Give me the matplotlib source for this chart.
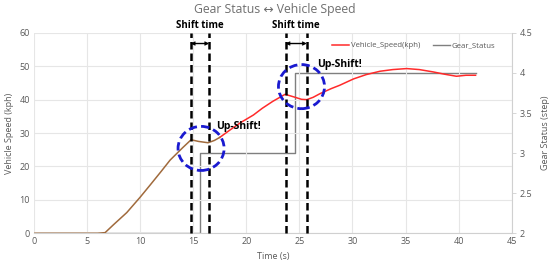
import matplotlib
matplotlib.use("Agg")
import matplotlib.pyplot as plt
from matplotlib.patches import Ellipse

plt.rcParams['font.family'] = ['Open Sans', 'DejaVu Sans']

# ---- data ----
time_s = [0, 2, 4, 6, 6.7, 7.5, 8.74, 10, 10.93, 12, 12.82, 14, 14.8, 15.5, 16.4, 17.0, 17.5,
          18.5, 19.5, 20.67, 21.5, 22.5, 23.66, 24.5, 25.2, 25.7, 26.3, 26.95, 28, 28.8, 30.1,
          31.3, 32.6, 33.8, 35.1, 36.3, 37.6, 38.7, 39.8, 40.7, 41.6]
speed_kph = [0, 0, 0, 0, 0.2, 2.6, 6.2, 10.8, 14.4, 18.6, 21.9, 25.6, 28, 27.5, 27.1, 27.8, 28.7,
             31, 33.2, 35.4, 37.4, 39.5, 41.6, 40.8, 40.1, 40.0, 40.7, 41.8, 43.3, 44.3, 46.2,
             47.5, 48.5, 49.0, 49.3, 49.0, 48.3, 47.6, 47.0, 47.3, 47.3]
split_idx = 16  # speed segment drawn brown up to t=17.5

gear_time = [0, 15.65, 24.55, 41.6]
gear_step = [2, 3, 4, 4]

shift_lines = [14.77, 16.5, 23.7, 25.7]
circle_centers = [(15.74, 25.4), (25.2, 43.9)]
upshift_pos = [(17.2, 31.9), (26.7, 50.6)]

x_ticks = [0, 5, 10, 15, 20, 25, 30, 35, 40, 45]
y_ticks = [0, 10, 20, 30, 40, 50, 60]
y2_ticks = [2, 2.5, 3, 3.5, 4, 4.5]
y2_labels = ['2', '2.5', '3', '3.5', '4', '4.5']

# ---- figure ----
fig = plt.figure(figsize=(5.5, 2.69), dpi=100)
ax = fig.add_axes([0.0618, 0.1327, 0.8685, 0.7453])
ax2 = ax.twinx()

gray = '#7f7f7f'
tick_col = '#595959'

ax.set_xlim(0, 45)
ax.set_ylim(0, 60)
ax2.set_ylim(2, 4.5)

ax.set_xticks(x_ticks)
ax.set_yticks(y_ticks)
ax2.set_yticks(y2_ticks)
ax2.set_yticklabels(y2_labels)
ax.grid(True, color='#e6e6e6', lw=0.8)
ax.set_axisbelow(True)

for a in (ax, ax2):
    for s in a.spines.values():
        s.set_visible(False)
ax2.spines['right'].set_visible(True)
ax2.spines['right'].set_color('#d0d0d0')
ax.spines['bottom'].set_visible(True)
ax.spines['bottom'].set_color('#d0d0d0')

ax.tick_params(axis='both', labelsize=6.5, colors=tick_col, length=0, pad=3)
ax2.tick_params(axis='y', labelsize=6.5, colors=tick_col, length=3, width=0.6, pad=3)
ax2.tick_params(axis='y', color='#d0d0d0')

ax.set_xlabel('Time (s)', fontsize=6.5, color=tick_col, labelpad=4)
ax.set_ylabel('Vehicle Speed (kph)', fontsize=6.5, color=tick_col, labelpad=4)
ax2.set_ylabel('Gear Status (step)', fontsize=6.5, color=tick_col, labelpad=6)

# speed
l1, = ax.plot(time_s[split_idx:], speed_kph[split_idx:], color='#ff2a2a', lw=1.1, zorder=4,
              label='Vehicle_Speed(kph)')
ax.plot(time_s[:split_idx + 1], speed_kph[:split_idx + 1], color='#a06a3c', lw=1.1, zorder=4)

# gear
l2, = ax2.plot(gear_time, gear_step, color=gray, lw=1.0, drawstyle='steps-post',
               label='Gear_Status', zorder=3)

# shift lines
for x in shift_lines:
    ax.plot([x, x], [0, 60], color='black', lw=1.8, ls=(0, (3, 1.6)), zorder=6,
            clip_on=False)

for i in range(0, len(shift_lines), 2):
    a, b = shift_lines[i], shift_lines[i + 1]
    ax.annotate('', xy=(a, 56.8), xytext=(b, 56.8),
                arrowprops=dict(arrowstyle='<->', color='black', lw=1.0,
                                mutation_scale=5, shrinkA=0, shrinkB=0), zorder=7)
    ax.text((a + b) / 2, 62.3, 'Shift time', ha='center', va='center', fontsize=7,
            fontweight='bold', color='black')

for (cx, cy) in circle_centers:
    e = Ellipse((cx, cy), width=4.34, height=13.2, fill=False, ec='#1a1ad0', lw=2.0,
                ls=(0, (3, 1.5)), zorder=8)
    ax.add_patch(e)

for (ux, uy) in upshift_pos:
    ax.text(ux, uy, 'Up-Shift!', ha='left', va='center', fontsize=7.5,
            fontweight='bold', color='black', zorder=9)

ax.set_zorder(ax2.get_zorder() + 1)
ax.patch.set_visible(False)

leg = ax.legend([l1, l2], ['Vehicle_Speed(kph)', 'Gear_Status'], loc='upper right',
                bbox_to_anchor=(0.98, 0.99), ncol=2, frameon=False, fontsize=5.6,
                handlelength=2.2, handletextpad=0.2, columnspacing=1.6)
for t in leg.get_texts():
    t.set_color(tick_col)

fig.text(0.5, 0.965, 'Gear Status \u2194 Vehicle Speed', ha='center', va='center',
         fontsize=8.8, color='#6f6f6f')

fig.savefig('out.png', dpi=100)
